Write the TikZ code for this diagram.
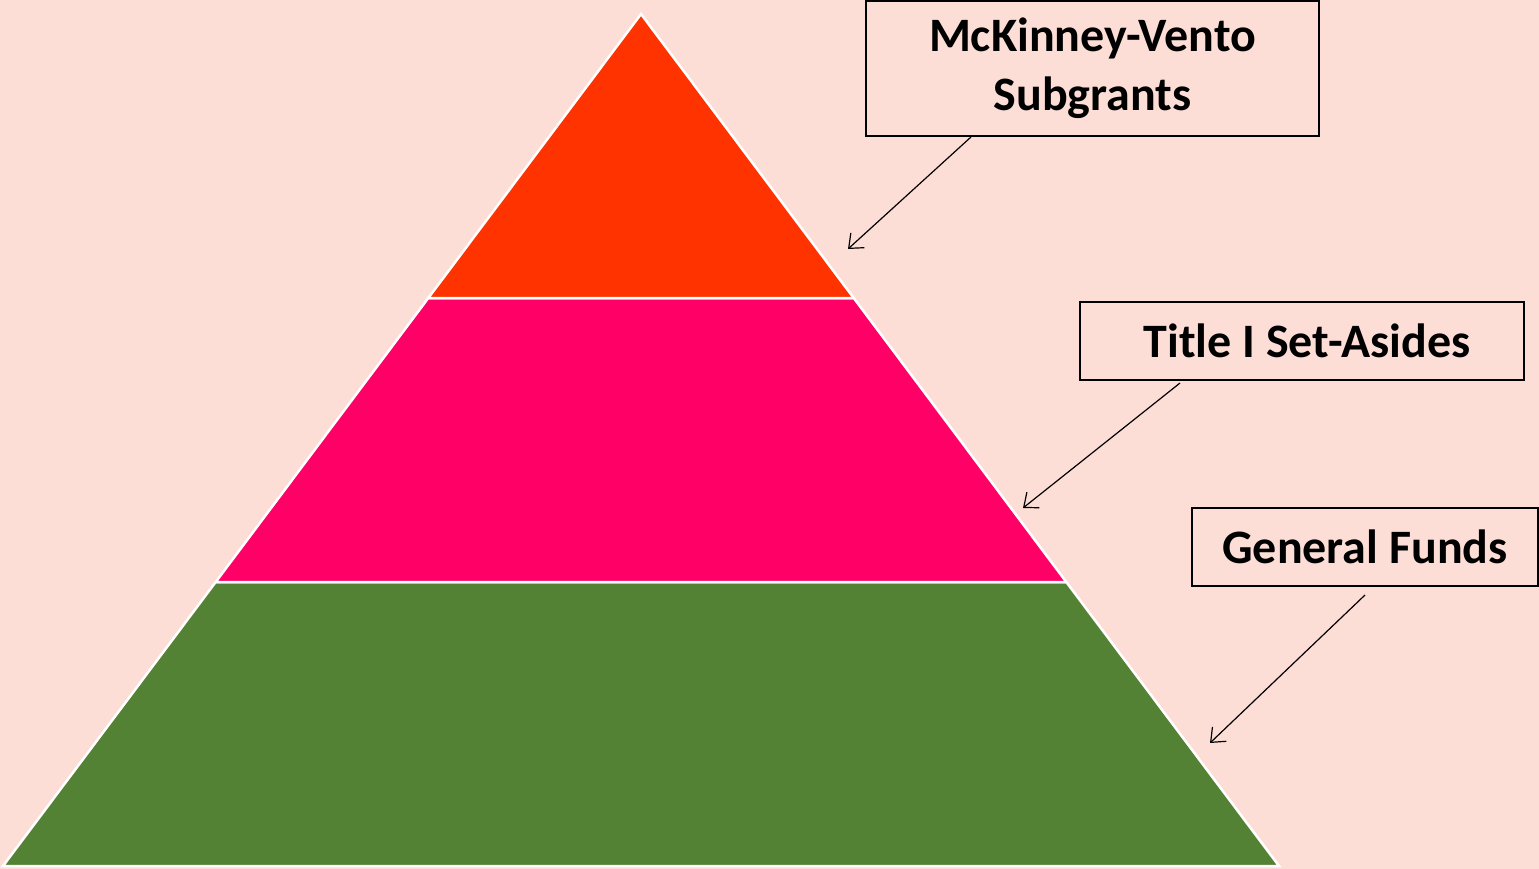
\documentclass[tikz,border=0pt]{standalone}
\usepackage{fontspec}
\setmainfont{Carlito}
\usetikzlibrary{arrows.meta}
\definecolor{bgpink}{RGB}{253,222,214}
\definecolor{toplayer}{RGB}{255,51,0}
\definecolor{midlayer}{RGB}{255,0,102}
\definecolor{botlayer}{RGB}{84,130,53}
\tikzset{
  layer/.style={draw=white, line width=2.5pt, line join=miter},
  labelbox/.style={draw=black, line width=1.6pt, fill=none, inner sep=0pt, align=center,
    font=\fontsize{48}{59}\selectfont\bfseries},
  arr/.style={line width=1.2pt, -{Straight Barb[length=12pt,width=20pt,line width=1.2pt]}}
}
\begin{document}
\begin{tikzpicture}[x=1pt,y=-1pt]
\fill[bgpink] (0,0) rectangle (1539,869);
\useasboundingbox (0,0) rectangle (1539,869);
% pyramid layers
\filldraw[layer, fill=botlayer] (215.7,582) -- (1066.3,582) -- (1279,866) -- (3,866) -- cycle;
\filldraw[layer, fill=midlayer] (428.3,298) -- (853.7,298) -- (1066.3,582) -- (215.7,582) -- cycle;
\filldraw[layer, fill=toplayer] (641,14) -- (853.7,298) -- (428.3,298) -- cycle;
% label boxes
\node[labelbox, minimum width=453pt, minimum height=135pt] (mv) at (1092.5,68.5) {McKinney-Vento\\Subgrants\rule[-2pt]{0pt}{1pt}};
\node[labelbox, minimum width=444pt, minimum height=78pt] (t1) at (1302,341) {\hspace*{10pt}Title I Set-Asides};
\node[labelbox, minimum width=346pt, minimum height=78pt] (gf) at (1365,547) {General Funds};
% arrow ends
\coordinate (mvs) at (971,137);
\coordinate (mvt) at (848,249);
\coordinate (t1s) at (1180,383);
\coordinate (t1t) at (1023,508);
\coordinate (gfs) at (1365,595);
\coordinate (gft) at (1210,743);
\draw[arr] (mvs) -- (mvt);
\draw[arr] (t1s) -- (t1t);
\draw[arr] (gfs) -- (gft);
\end{tikzpicture}
\end{document}
